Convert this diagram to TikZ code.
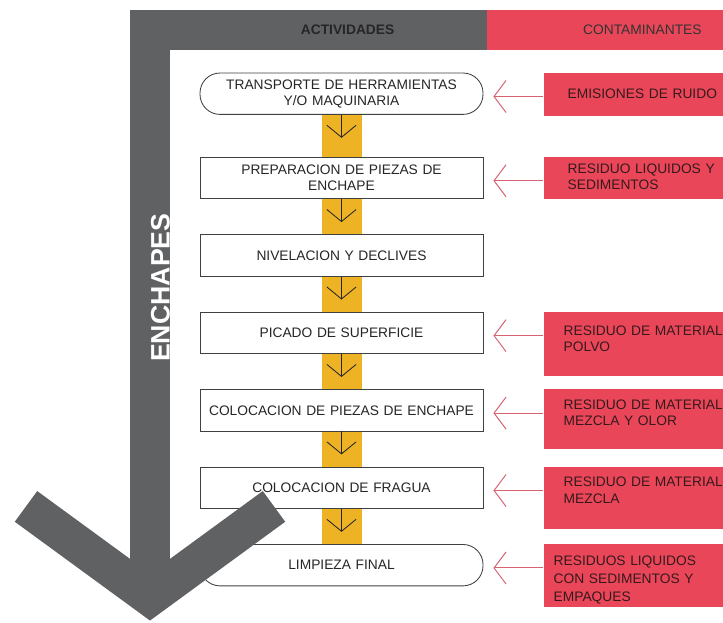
\documentclass[tikz,border=0pt]{standalone}
\usepackage{fontspec}
\setmainfont{Liberation Sans}
\usepackage{tikz}
\usetikzlibrary{calc,positioning,backgrounds,arrows.meta}

\definecolor{grisbar}{RGB}{96,97,99}
\definecolor{rojobar}{RGB}{233,71,89}
\definecolor{rojoflecha}{RGB}{214,98,114}
\definecolor{amarillo}{RGB}{238,178,37}
\definecolor{textorojo}{RGB}{55,25,28}

\begin{document}
\begin{tikzpicture}[
  myact/.style={draw=black!75,line width=0.6pt,fill=white,text=black!85,minimum height=1.035cm,text width=6.875cm,inner xsep=0.1cm,align=center,font=\fontsize{9.8}{11.5}\selectfont},
  myactr/.style={myact,rounded corners=0.5cm},
  mycont/.style={fill=rojobar,anchor=north west,minimum width=4.5cm,inner xsep=0pt,inner ysep=0pt,align=left,text=textorojo,font=\fontsize{9.8}{11.5}\selectfont},
  myflecha/.style={line width=0.6pt,black!85,-{Straight Barb[length=0.3cm,width=0.73cm]}},
  myflechar/.style={line width=0.7pt,rojoflecha,-{Straight Barb[length=0.3cm,width=0.8cm]}}
]
\useasboundingbox (0,0) rectangle (18.075,-15.55);

% cabecera
\fill[grisbar] (3.25,-0.25) rectangle (12.175,-1.25);
\fill[rojobar] (12.175,-0.25) rectangle (18.075,-1.25);
\node[text=black!85,font=\bfseries\fontsize{9.8}{11}\selectfont] at (8.69,-0.75) (hA) {ACTIVIDADES};
\node[text=black!80,font=\fontsize{9.8}{11}\selectfont] at (16.06,-0.75) (hC) {CONTAMINANTES};

% actividades
\node[myactr] at (8.5375,-2.3425) (A1) {TRANSPORTE DE HERRAMIENTAS\\Y/O MAQUINARIA};
\node[myact, below = 1.05 cm of A1] (A2) {PREPARACION DE PIEZAS DE\\ENCHAPE};
\node[myact, below = 0.88 cm of A2] (A3) {NIVELACION Y DECLIVES};
\node[myact, below = 0.88 cm of A3] (A4) {PICADO DE SUPERFICIE};
\node[myact, below = 0.88 cm of A4] (A5) {COLOCACION DE PIEZAS DE ENCHAPE};
\node[myact, below = 0.88 cm of A5] (A6) {COLOCACION DE FRAGUA};
\node[myactr, below = 0.88 cm of A6] (A7) {LIMPIEZA FINAL};

% contaminantes
\node[mycont, right = 1.5 cm of A1.north east, anchor=north west, text width=3.3cm, text height=0.65cm, text depth=0.425cm] (C1) {\mbox{EMISIONES DE RUIDO}};
\node[mycont, right = 1.5 cm of A2.north east, anchor=north west, text width=3.3cm, text height=0.41cm, text depth=0.64cm] (C2) {\mbox{RESIDUO LIQUIDOS Y}\\SEDIMENTOS};
\node[mycont, right = 1.5 cm of A4.north east, anchor=north west, text width=3.5cm, text height=0.59cm, text depth=1.01cm] (C4) {\mbox{RESIDUO DE MATERIAL}\\POLVO};
\node[mycont, right = 1.5 cm of A5.north east, anchor=north west, text width=3.5cm, text height=0.5cm, text depth=1.0cm] (C5) {\mbox{RESIDUO DE MATERIAL}\\\mbox{MEZCLA Y OLOR}};
\node[mycont, right = 1.5 cm of A6.north east, anchor=north west, text width=3.5cm, text height=0.5cm, text depth=1.05cm] (C6) {\mbox{RESIDUO DE MATERIAL}\\MEZCLA};
\node[mycont, right = 1.5 cm of A7.north east, anchor=north west, text width=4.0cm, text height=0.525cm, text depth=1.05cm, font=\fontsize{9.8}{12.8}\selectfont] (C7) {\mbox{RESIDUOS LIQUIDOS}\\\mbox{CON SEDIMENTOS Y}\\EMPAQUES};

\begin{scope}[on background layer]
\foreach \a/\b in {1/2,2/3,3/4,4/5,5/6,6/7}{
\draw[amarillo,line width=1cm] (A\a.south) -- (A\b.north);
}
\end{scope}

\foreach \a in {1,2,...,6}{
\coordinate (t\a) at ($(A\a.south)+(0,-0.575)$);
\draw[myflecha] (A\a.south) -- (t\a);
}

\foreach \a in {1,2,4,5,6,7}{
\coordinate (p\a) at ($(A\a.east)+(0.25,-0.07)$);
\draw[myflechar] (C\a.west |- p\a) -- (p\a);
}

% flecha gris
\draw[grisbar,line width=1cm] (3.75,-0.25) -- (3.75,-14.925);
\draw[grisbar,line width=0.95cm] (0.65,-12.66) -- (3.75,-14.925) -- (6.85,-12.66);
\node[rotate=90,anchor=base,text=white,font=\bfseries\fontsize{19}{19}\selectfont] at (4.24,-7.19) (E) {ENCHAPES};

\end{tikzpicture}
\end{document}
